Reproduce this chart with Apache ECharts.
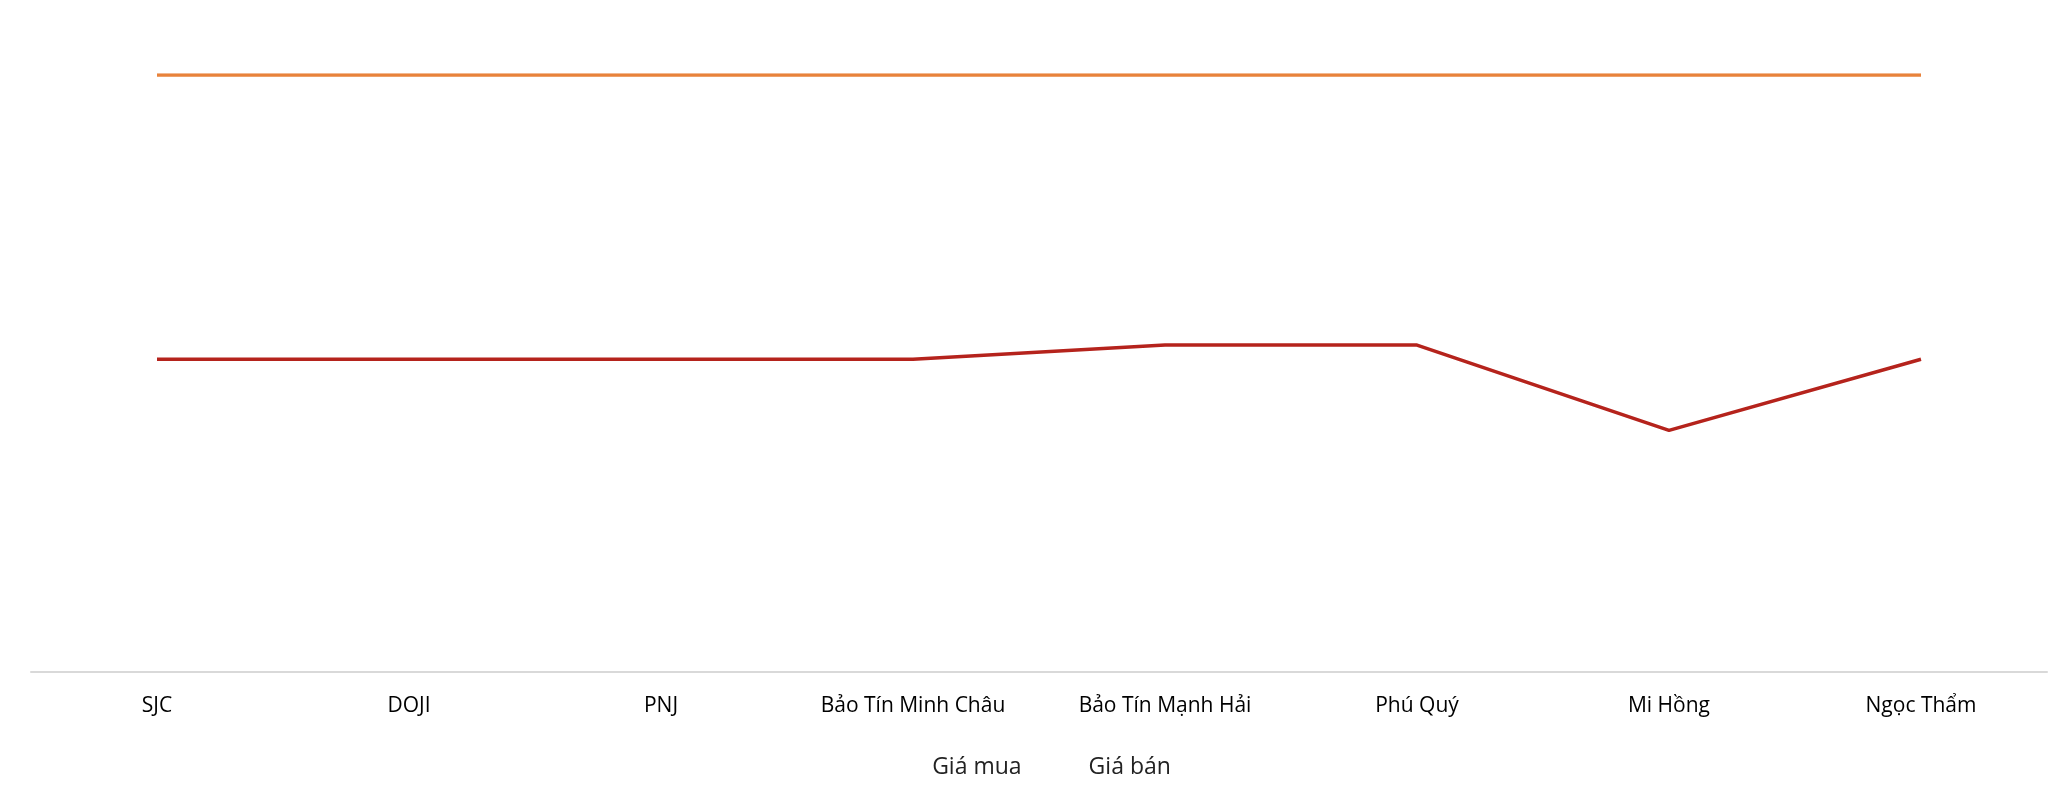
<!DOCTYPE html>
<html><head><meta charset="utf-8">
<script src="https://cdn.jsdelivr.net/npm/echarts@6/dist/echarts.min.js"></script>
<style>html,body{margin:0;background:#fff}#c{width:2058px;height:792px}</style>
</head><body><div id="c"></div>
<script>
var categories = ['SJC', 'DOJI', 'PNJ', 'Bảo Tín Minh Châu', 'Bảo Tín Mạnh Hải', 'Phú Quý', 'Mi Hồng', 'Ngọc Thẩm'];
var buyValues = [154.2, 154.2, 154.2, 154.2, 154.3, 154.3, 153.7, 154.2];
var sellValues = [156.2, 156.2, 156.2, 156.2, 156.2, 156.2, 156.2, 156.2];
var buyLabelDy = [-20, -16, -16, -16, -24, 6, 5, -4];
var sellLabelDy = [-18, -18, -18, -18, -20, -18, 0, 0];

function items(vals, dys) {
	var out = [];
	for (var i = 0; i < vals.length; i++) {
		out.push({ value: vals[i], label: { offset: [0, dys[i]] } });
	}
	return out;
}
function fmt(p) { return String(p.value).replace('.', ','); }

var myChart = echarts.init(document.getElementById('c'));
var labelBase = {
	show: true, position: 'inside', formatter: fmt,
	fontFamily: 'Open Sans', fontWeight: 'bold', fontSize: 19,
	backgroundColor: '#fff', padding: [2, 8]
};
var dashIcon = 'path://M0,0H16V6H0Z M24,0H40V6H24Z';
myChart.setOption({
	backgroundColor: '#FFFFFF',
	animation: false,
	grid: { left: 31, right: 11, top: 75, bottom: 120 },
	legend: {
		bottom: 8, left: 'center', itemWidth: 40, itemHeight: 6, itemGap: 22,
		textStyle: { fontFamily: 'Open Sans', fontSize: 23, color: '#222' },
		data: [
			{ name: 'Giá mua', icon: dashIcon },
			{ name: 'Giá bán', icon: dashIcon }
		]
	},
	xAxis: {
		type: 'category', data: categories, boundaryGap: true,
		axisLine: { lineStyle: { color: '#d9d9d9', width: 2 } },
		axisTick: { show: false },
		axisLabel: { fontFamily: 'Open Sans', fontSize: 21, fontWeight: 500, color: '#000', margin: 24 }
	},
	yAxis: { type: 'value', min: 152, max: 156.2, show: false, splitLine: { show: false } },
	series: [
		{
			name: 'Giá mua', type: 'line', data: items(buyValues, buyLabelDy),
			symbol: 'circle', symbolSize: 1, itemStyle: { color: '#b5231c', opacity: 0 },
			color: '#b5231c', lineStyle: { width: 3.5, color: '#b5231c' },
			label: Object.assign({ color: '#b5231c' }, labelBase), z: 3
		},
		{
			name: 'Giá bán', type: 'line', data: items(sellValues, sellLabelDy),
			symbol: 'circle', symbolSize: 1, itemStyle: { color: '#e8823b', opacity: 0 },
			color: '#e8823b', lineStyle: { width: 3.5, color: '#e8823b' },
			label: Object.assign({ color: '#e8823b' }, labelBase), z: 3
		}
	]
});
</script></body></html>
